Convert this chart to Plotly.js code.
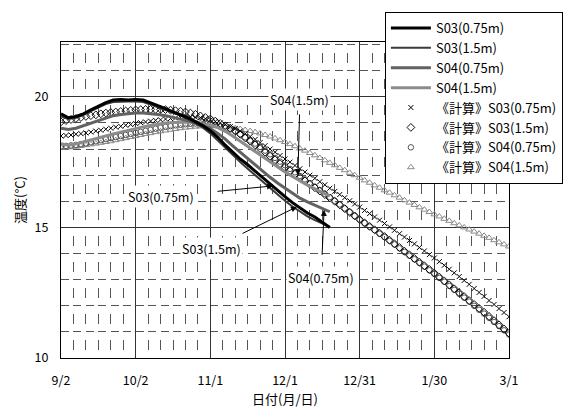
<!DOCTYPE html>
<html>
<head>
<meta charset="utf-8">
<script src="https://cdn.plot.ly/plotly-3.0.1.min.js"></script>
<style>html,body{margin:0;padding:0;background:#fff;}#chart{width:570px;height:413px;}</style>
</head>
<body>
<div id="chart"></div>
<script>
// x axis: days after 9/2 (9/2 = 0 ... 3/1 = 180)
var tickDays = [0, 30, 60, 90, 120, 150, 180];
var tickLabels = ['9/2', '10/2', '11/1', '12/1', '12/31', '1/30', '3/1'];

// measured (every 3 days, 9/2 .. 12/18)
var measDays = [0,3,6,9,12,15,18,21,24,27,30,33,36,39,42,45,48,51,54,57,60,63,66,69,72,75,78,81,84,87,90,93,96,99,102,105,108];
var s03_075 = [19.35,19.20,19.25,19.35,19.50,19.65,19.78,19.88,19.90,19.88,19.90,19.88,19.78,19.65,19.55,19.42,19.32,19.20,19.05,18.90,18.70,18.45,18.15,17.88,17.62,17.40,17.15,16.90,16.65,16.40,16.18,15.95,15.75,15.55,15.40,15.20,15.00];
var s03_15  = [19.25,19.15,19.20,19.30,19.45,19.60,19.72,19.80,19.82,19.82,19.82,19.80,19.70,19.60,19.50,19.38,19.28,19.15,19.00,18.82,18.60,18.33,18.02,17.75,17.50,17.25,17.00,16.75,16.50,16.25,16.02,15.80,15.60,15.42,15.28,15.15,15.02];
var s04_075 = [18.80,18.75,18.80,18.90,19.00,19.10,19.20,19.28,19.32,19.35,19.38,19.38,19.36,19.32,19.28,19.22,19.15,19.08,19.00,18.90,18.78,18.60,18.38,18.12,17.88,17.62,17.38,17.15,16.92,16.70,16.50,16.30,16.12,15.98,15.85,15.72,15.60];
var s04_15  = [18.20,18.15,18.20,18.28,18.35,18.42,18.50,18.58,18.65,18.72,18.78,18.85,18.90,18.95,19.00,19.02,19.04,19.04,19.02,18.98,18.92,18.82,18.68,18.50,18.30,18.10,17.90,17.70,17.50,17.30,17.12,16.95,16.78,16.62,16.48,16.34,16.20];

// calculated (every 2 days, 9/2 .. 3/1)
var calcDays = [0,2,4,6,8,10,12,14,16,18,20,22,24,26,28,30,32,34,36,38,40,42,44,46,48,50,52,54,56,58,60,62,64,66,68,70,72,74,76,78,80,82,84,86,88,90,92,94,96,98,100,102,104,106,108,110,112,114,116,118,120,122,124,126,128,130,132,134,136,138,140,142,144,146,148,150,152,154,156,158,160,162,164,166,168,170,172,174,176,178,180];
var c03_075 = [18.50,18.52,18.54,18.57,18.59,18.62,18.65,18.69,18.72,18.76,18.80,18.84,18.87,18.91,18.94,18.98,19.01,19.04,19.07,19.10,19.12,19.15,19.17,19.19,19.21,19.22,19.23,19.22,19.20,19.16,19.12,19.06,19.00,18.94,18.86,18.78,18.69,18.59,18.48,18.37,18.25,18.13,18.00,17.88,17.75,17.62,17.50,17.37,17.25,17.12,17.00,16.88,16.75,16.63,16.50,16.38,16.26,16.14,16.02,15.90,15.78,15.65,15.53,15.40,15.28,15.15,15.02,14.89,14.76,14.63,14.50,14.37,14.23,14.10,13.96,13.83,13.69,13.55,13.40,13.26,13.12,12.97,12.82,12.66,12.51,12.36,12.20,12.05,11.89,11.74,11.58];
var c03_15  = [19.04,19.09,19.13,19.17,19.21,19.25,19.28,19.31,19.35,19.38,19.40,19.42,19.44,19.46,19.48,19.50,19.51,19.52,19.52,19.52,19.52,19.51,19.49,19.47,19.45,19.42,19.38,19.33,19.27,19.21,19.15,19.07,18.98,18.89,18.80,18.70,18.57,18.43,18.30,18.16,18.02,17.88,17.73,17.59,17.44,17.30,17.17,17.04,16.91,16.78,16.65,16.52,16.39,16.26,16.13,16.00,15.86,15.72,15.58,15.44,15.30,15.17,15.04,14.91,14.78,14.65,14.51,14.37,14.23,14.09,13.95,13.81,13.67,13.53,13.39,13.25,13.10,12.95,12.80,12.65,12.50,12.35,12.20,12.05,11.90,11.75,11.59,11.43,11.27,11.11,10.95];
var c04_075 = [18.10,18.12,18.14,18.16,18.19,18.22,18.26,18.30,18.34,18.38,18.42,18.46,18.50,18.54,18.58,18.62,18.66,18.70,18.74,18.78,18.82,18.85,18.88,18.91,18.93,18.95,18.97,18.98,18.98,18.97,18.96,18.92,18.87,18.81,18.75,18.68,18.57,18.45,18.33,18.21,18.08,17.94,17.80,17.66,17.52,17.38,17.24,17.11,16.97,16.84,16.70,16.56,16.43,16.29,16.16,16.02,15.88,15.73,15.59,15.44,15.30,15.17,15.03,14.90,14.76,14.63,14.49,14.35,14.20,14.06,13.92,13.78,13.64,13.50,13.36,13.22,13.07,12.92,12.76,12.61,12.46,12.31,12.16,12.00,11.85,11.70,11.54,11.38,11.22,11.06,10.90];
var c04_15  = [18.05,18.06,18.07,18.09,18.12,18.15,18.18,18.21,18.24,18.27,18.30,18.34,18.38,18.42,18.46,18.50,18.54,18.58,18.61,18.65,18.68,18.71,18.74,18.77,18.80,18.82,18.84,18.86,18.87,18.88,18.88,18.88,18.87,18.85,18.83,18.80,18.77,18.73,18.69,18.65,18.60,18.54,18.48,18.41,18.34,18.27,18.19,18.11,18.02,17.94,17.85,17.76,17.66,17.57,17.47,17.38,17.28,17.19,17.09,17.00,16.90,16.80,16.71,16.61,16.52,16.42,16.33,16.23,16.14,16.04,15.95,15.86,15.77,15.68,15.59,15.50,15.42,15.33,15.25,15.16,15.08,15.00,14.92,14.84,14.76,14.68,14.60,14.51,14.43,14.35,14.27];

var FONT = '"Noto Sans CJK JP", "Noto Sans", sans-serif';

var traces = [
  {x: calcDays, y: c04_15, name: '《計算》S04(1.5m)', mode: 'markers', legendrank: 8,
   marker: {symbol: 'triangle-up-open', size: 6, color: '#8a8a8a', line: {width: 1, color: '#8a8a8a'}}},
  {x: calcDays, y: c04_075, name: '《計算》S04(0.75m)', mode: 'markers', legendrank: 7,
   marker: {symbol: 'circle-open', size: 5.5, color: '#555', line: {width: 1, color: '#555'}}},
  {x: calcDays, y: c03_15, name: '《計算》S03(1.5m)', mode: 'markers', legendrank: 6,
   marker: {symbol: 'diamond-open', size: 6, color: '#111', line: {width: 1, color: '#111'}}},
  {x: calcDays, y: c03_075, name: '《計算》S03(0.75m)', mode: 'markers', legendrank: 5,
   marker: {symbol: 'x-thin-open', size: 5, color: '#000', line: {width: 1, color: '#000'}}},
  {x: measDays, y: s04_15, name: 'S04(1.5m)', mode: 'lines', legendrank: 4,
   line: {color: '#8c8c8c', width: 3}},
  {x: measDays, y: s04_075, name: 'S04(0.75m)', mode: 'lines', legendrank: 3,
   line: {color: '#626262', width: 3}},
  {x: measDays, y: s03_15, name: 'S03(1.5m)', mode: 'lines', legendrank: 2,
   line: {color: '#3a3a3a', width: 2}},
  {x: measDays, y: s03_075, name: 'S03(0.75m)', mode: 'lines', legendrank: 1,
   line: {color: '#000', width: 3}}
];

function callout(text, tipX, tipY, labX, labY, gap) {
  return {x: tipX, y: tipY, xref: 'x', yref: 'y', ax: labX, ay: labY, axref: 'x', ayref: 'y',
          text: text, showarrow: true, arrowhead: 2, arrowsize: 1.2, arrowwidth: 1, arrowcolor: '#000',
          standoff: 0, startstandoff: gap, bgcolor: '#fff', borderpad: 1,
          font: {family: FONT, size: 12.5, color: '#000'}};
}

var layout = {
  width: 570, height: 413,
  margin: {l: 61, r: 61, t: 42, b: 55, autoexpand: false},
  paper_bgcolor: '#fff', plot_bgcolor: '#fff',
  font: {family: FONT, size: 12.5, color: '#000'},
  showlegend: true,
  legend: {x: 0.723, y: 1.095, xanchor: 'left', yanchor: 'top', bgcolor: '#fff',
           bordercolor: '#000', borderwidth: 1, font: {family: FONT, size: 13, color: '#000'},
           tracegroupgap: 0, itemwidth: 40, traceorder: 'normal'},
  xaxis: {
    range: [0, 180], tickmode: 'array', tickvals: tickDays, ticktext: tickLabels,
    showline: true, linecolor: '#000', linewidth: 1, mirror: true,
    showgrid: true, gridcolor: '#333', gridwidth: 1, zeroline: false,
    ticks: '', ticklabelstandoff: 11, tickfont: {size: 12.5},
    minor: {tickmode: 'linear', tick0: 0, dtick: 5, showgrid: true, gridcolor: '#555', gridwidth: 1, griddash: '0px,11px,10px,5.1px'},
    title: {text: '日付(月/日)', font: {size: 13}, standoff: 4}
  },
  yaxis: {
    range: [10, 22.1], tickmode: 'array', tickvals: [10, 15, 20], ticktext: ['10', '15', '20'],
    showline: true, linecolor: '#000', linewidth: 1, mirror: true,
    showgrid: true, gridcolor: '#333', gridwidth: 1, zeroline: false,
    ticks: '', ticklabelstandoff: 9, tickfont: {size: 12.5},
    minor: {tickmode: 'linear', tick0: 10, dtick: 1, showgrid: true, gridcolor: '#555', gridwidth: 1, griddash: '8px,4.45px'},
    title: {text: '温度(°C)', font: {size: 13}, standoff: 6}
  },
  annotations: [
    callout('S04(1.5m)', 95.2, 17.0, 96, 19.9, 4),
    callout('S03(0.75m)', 85.2, 16.59, 40.2, 16.17, 22),
    callout('S03(1.5m)', 94.8, 15.79, 60.3, 14.18, 10),
    callout('S04(0.75m)', 105.7, 15.67, 104.5, 13.07, 12)
  ]
};

Plotly.newPlot('chart', traces, layout, {staticPlot: true, displayModeBar: false});
</script>
</body>
</html>
